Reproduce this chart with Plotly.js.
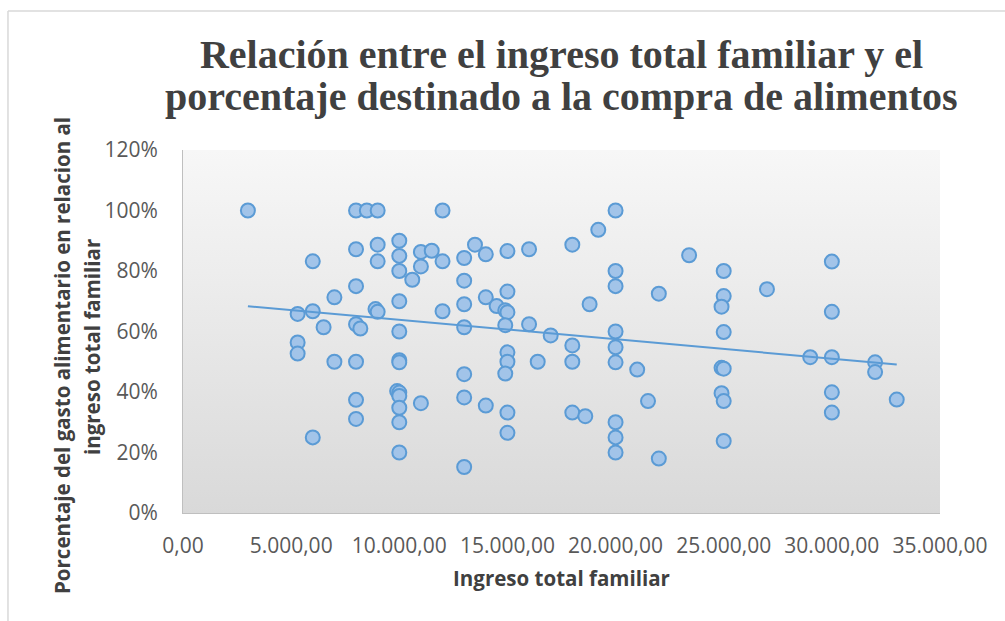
<!DOCTYPE html>
<html>
<head>
<meta charset="utf-8">
<script src="https://cdn.plot.ly/plotly-3.0.1.min.js"></script>
<style>html,body{margin:0;padding:0;background:#fff;}#chart{width:1005px;height:621px;}</style>
</head>
<body>
<div id="chart"></div>
<script>
// Ingreso total familiar
const ingreso = [
  3000, 8000, 8500, 9000, 12000, 8000, 9000, 10000, 6000, 9000,
  10000, 11000, 11500, 11000, 12000, 10000, 10600, 8000, 7000, 10000,
  5300, 6000, 8900, 9000, 12000, 6500, 8000, 8200, 10000, 5300,
  5300, 7000, 8000, 10000, 10000, 8000, 9900, 10000, 10000, 11000,
  10000, 8000, 10000, 6000, 10000,
  13000, 13500, 14000, 15000, 16000, 18000, 19200, 20000, 23400, 13000,
  13000, 13000, 14000, 14500, 14900, 15000, 15000, 14900, 16000, 17000,
  18000, 20000, 20000, 20000, 18000, 16400, 15000, 15000, 14900, 13000,
  21000, 18800, 20000, 20000, 22000, 13000, 14000, 15000, 15000, 18000,
  18600, 21500, 20000, 20000, 20000, 22000, 13000,
  25000, 25000, 24900, 25000, 24900, 25000, 24900, 25000, 25000, 27000,
  30000, 30000, 29000, 30000, 30000, 30000, 32000, 32000, 33000
];
// Porcentaje del gasto alimentario (fraccion)
const porcentaje = [
  1.000, 1.000, 1.000, 1.000, 1.000, 0.872, 0.887, 0.900, 0.832, 0.832,
  0.850, 0.863, 0.867, 0.815, 0.832, 0.800, 0.771, 0.750, 0.713, 0.700,
  0.658, 0.667, 0.674, 0.665, 0.667, 0.614, 0.624, 0.610, 0.600, 0.564,
  0.527, 0.500, 0.500, 0.505, 0.498, 0.374, 0.403, 0.398, 0.387, 0.363,
  0.348, 0.311, 0.300, 0.250, 0.200,
  0.843, 0.887, 0.855, 0.866, 0.872, 0.887, 0.936, 1.000, 0.852, 0.768,
  0.690, 0.614, 0.713, 0.684, 0.670, 0.664, 0.732, 0.621, 0.624, 0.587,
  0.554, 0.600, 0.548, 0.498, 0.500, 0.500, 0.531, 0.500, 0.461, 0.459,
  0.474, 0.690, 0.800, 0.750, 0.725, 0.382, 0.355, 0.332, 0.265, 0.332,
  0.320, 0.370, 0.300, 0.250, 0.200, 0.180, 0.152,
  0.800, 0.717, 0.682, 0.598, 0.480, 0.477, 0.396, 0.370, 0.238, 0.740,
  0.831, 0.665, 0.515, 0.515, 0.399, 0.332, 0.498, 0.466, 0.375
];
const xTicks = [0, 5000, 10000, 15000, 20000, 25000, 30000, 35000];
const yTicks = [0, 0.2, 0.4, 0.6, 0.8, 1.0, 1.2];
const titleLine1 = 'Relación entre el ingreso total familiar y el';
const titleLine2 = 'porcentaje destinado a la compra de alimentos';
const yTitleLine1 = 'Porcentaje del gasto alimentario en relacion al';
const yTitleLine2 = 'ingreso total familiar';
const xTitle = 'Ingreso total familiar';

// linear trendline (least squares) over data range
const n = ingreso.length;
let sx = 0, sy = 0, sxx = 0, sxy = 0;
for (let i = 0; i < n; i++) { sx += ingreso[i]; sy += porcentaje[i]; sxx += ingreso[i]*ingreso[i]; sxy += ingreso[i]*porcentaje[i]; }
const slope = (n*sxy - sx*sy) / (n*sxx - sx*sx);
const intercept = (sy - slope*sx) / n;
const xmin = Math.min(...ingreso), xmax = Math.max(...ingreso);
const trendX = [xmin, xmax];
const trendY = trendX.map(v => intercept + slope*v);

const sansFont = "'Open Sans', 'Liberation Sans', sans-serif";
const serifFont = "'Liberation Serif', 'Times New Roman', serif";
const titleFont = { family: serifFont, size: 40, color: '#404040', weight: 'bold' };
const axTitleFont = { family: sansFont, size: 20.5, color: '#404040', weight: 'bold' };

const gradSvg = '<svg xmlns="http://www.w3.org/2000/svg" width="100" height="100" preserveAspectRatio="none">' +
  '<defs><linearGradient id="g" x1="0" y1="0" x2="0" y2="1">' +
  '<stop offset="0" stop-color="#f7f7f7"/><stop offset="1" stop-color="#d9d9d9"/>' +
  '</linearGradient></defs><rect width="100" height="100" fill="url(#g)"/></svg>';

const traces = [
  {
    type: 'scatter', mode: 'markers', x: ingreso, y: porcentaje,
    marker: { size: 14, color: '#a2c4e9', line: { color: '#5b9bd5', width: 2 } },
    hoverinfo: 'none', showlegend: false
  },
  {
    type: 'scatter', mode: 'lines', x: trendX, y: trendY,
    line: { color: '#5b9bd5', width: 2 }, hoverinfo: 'none', showlegend: false
  }
];

const layout = {
  width: 1005, height: 621,
  margin: { l: 183, r: 65, t: 150, b: 108, pad: 0 },
  paper_bgcolor: '#ffffff',
  plot_bgcolor: 'rgba(0,0,0,0)',
  separators: ',.',
  showlegend: false,
  title: {
    text: titleLine1,
    font: titleFont,
    x: 0.5, xref: 'paper', xanchor: 'center',
    y: 1 - 54/621, yref: 'container', yanchor: 'middle'
  },
  annotations: [
    { text: titleLine2, showarrow: false,
      xref: 'paper', yref: 'paper', x: 0.5, y: (513 - 96) / 363,
      xanchor: 'center', yanchor: 'middle', font: titleFont },
    { text: yTitleLine1, showarrow: false, textangle: -90,
      xref: 'paper', yref: 'paper', x: (62 - 183) / 757, y: (513 - 356) / 363,
      xanchor: 'center', yanchor: 'middle', font: axTitleFont },
    { text: yTitleLine2, showarrow: false, textangle: -90,
      xref: 'paper', yref: 'paper', x: (92 - 183) / 757, y: (513 - 347) / 363,
      xanchor: 'center', yanchor: 'middle', font: axTitleFont }
  ],
  xaxis: {
    range: [0, 35000], tickvals: xTicks, tickformat: ',.2f',
    showgrid: false, zeroline: false, showline: true, linecolor: '#bfbfbf', linewidth: 1,
    ticks: '', ticklabelstandoff: 14,
    tickfont: { family: sansFont, size: 21, color: '#595959' },
    title: { text: xTitle, standoff: 13, font: axTitleFont },
    fixedrange: true
  },
  yaxis: {
    range: [0, 1.2], tickvals: yTicks, tickformat: '.0%',
    showgrid: false, zeroline: false, showline: true, linecolor: '#bfbfbf', linewidth: 1,
    ticks: '', ticklabelstandoff: 20,
    tickfont: { family: sansFont, size: 21, color: '#595959' },
    fixedrange: true
  },
  images: [{
    source: 'data:image/svg+xml;charset=utf-8,' + encodeURIComponent(gradSvg),
    xref: 'paper', yref: 'paper', x: 0, y: 1, sizex: 1, sizey: 1,
    xanchor: 'left', yanchor: 'top', sizing: 'stretch', layer: 'below'
  }],
  shapes: [
    { type: 'line', xref: 'paper', yref: 'paper', x0: -0.2312, x1: 1.09, y0: 1.3829, y1: 1.3829,
      line: { color: '#d9d9d9', width: 1.5 } },
    { type: 'line', xref: 'paper', yref: 'paper', x0: -0.2312, x1: -0.2312, y0: 1.3829, y1: -0.31,
      line: { color: '#d9d9d9', width: 1.5 } }
  ]
};

Plotly.newPlot('chart', traces, layout, { displayModeBar: false, staticPlot: true });
</script>
</body>
</html>
